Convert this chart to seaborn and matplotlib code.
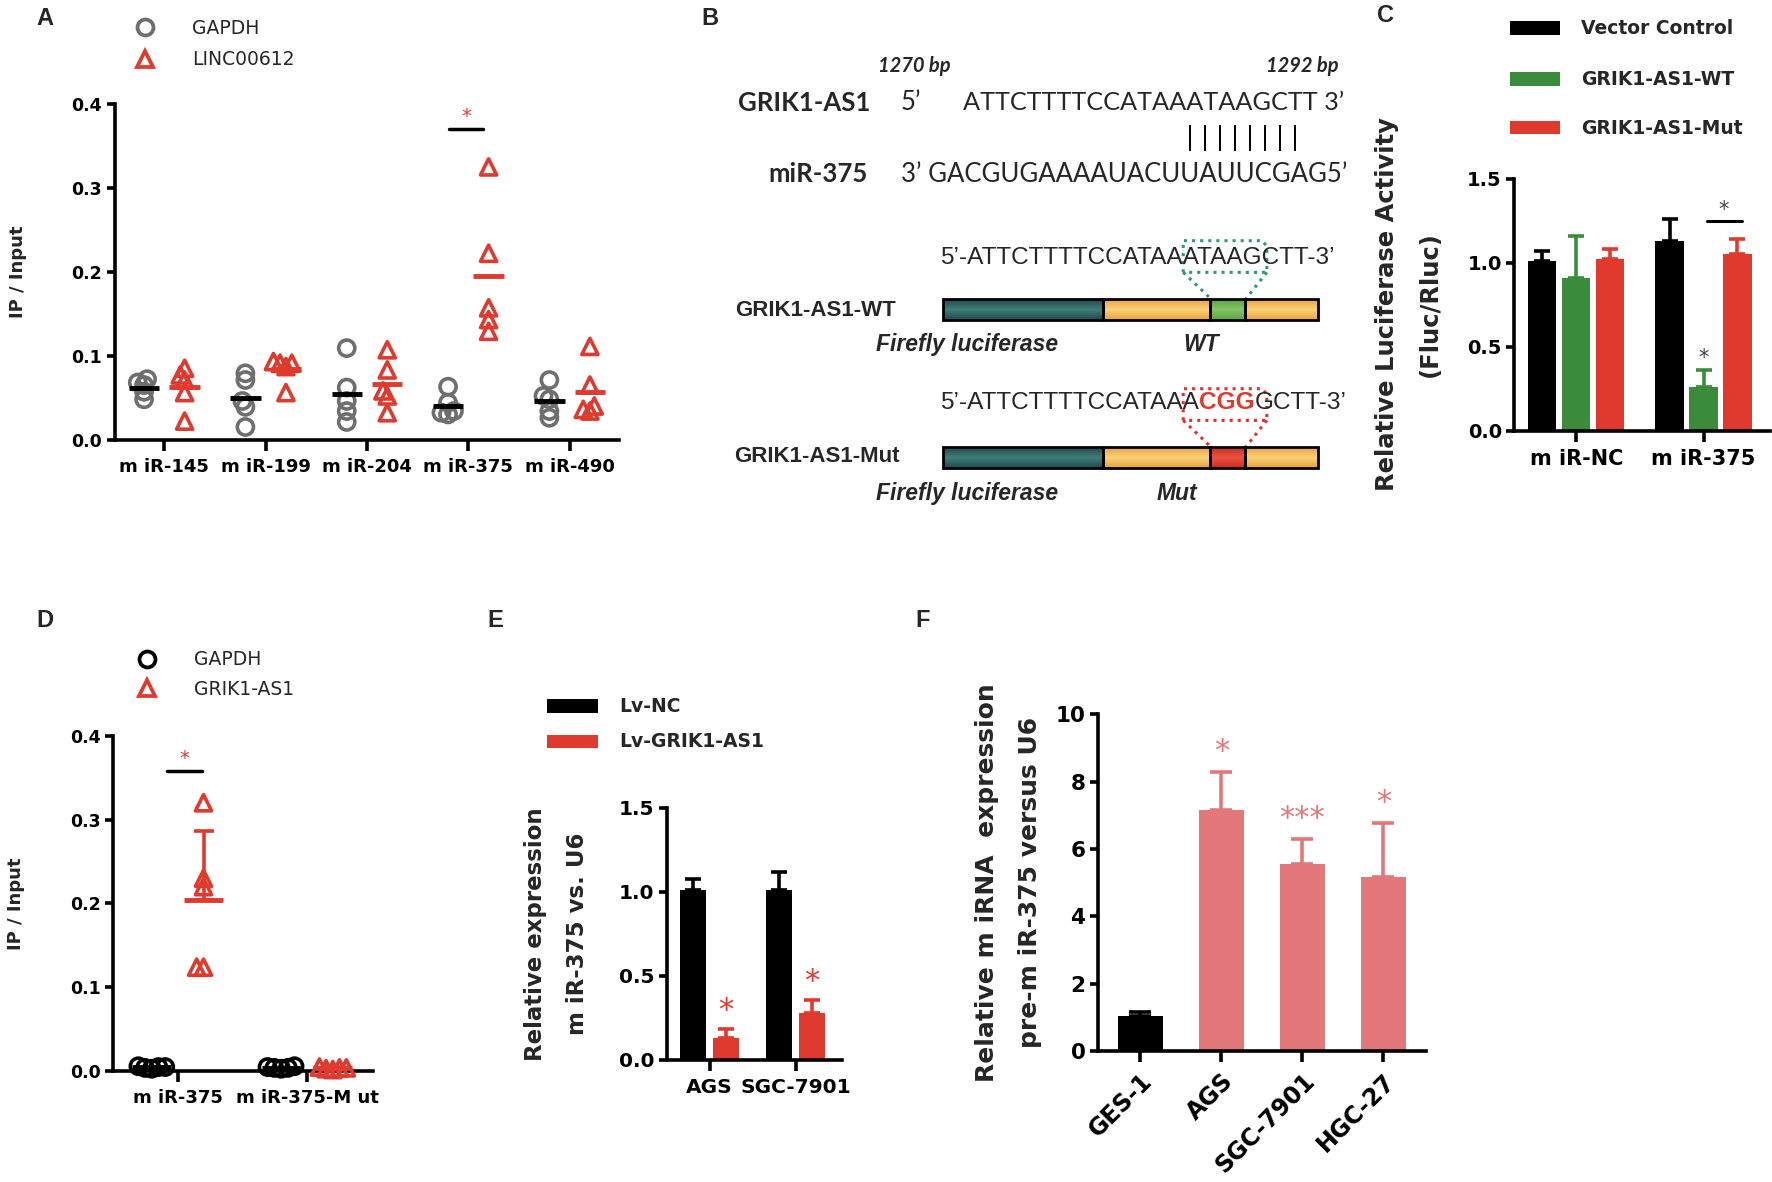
import numpy as np
import pandas as pd
import seaborn as sns
import matplotlib.pyplot as plt
from matplotlib.colors import LinearSegmentedColormap
from matplotlib.patches import Rectangle
from matplotlib.ticker import FormatStrFormatter

# ---------------- data ----------------
# A: RIP, IP / Input, 5 replicates per miRNA
a_mirs = ["m iR-145", "m iR-199", "m iR-204", "m iR-375", "m iR-490"]
a_genes = ["GAPDH", "LINC00612"]
a_gapdh = [[0.068, 0.072, 0.065, 0.057, 0.048],
           [0.079, 0.071, 0.046, 0.039, 0.015],
           [0.109, 0.062, 0.046, 0.034, 0.021],
           [0.063, 0.044, 0.034, 0.032, 0.030],
           [0.071, 0.052, 0.048, 0.034, 0.026]]
a_linc = [[0.085, 0.077, 0.071, 0.056, 0.022],
          [0.093, 0.091, 0.091, 0.087, 0.056],
          [0.107, 0.083, 0.058, 0.052, 0.032],
          [0.325, 0.222, 0.157, 0.143, 0.129],
          [0.111, 0.065, 0.040, 0.036, 0.034]]

# C: luciferase reporter
c_groups = ["m iR-NC", "m iR-375"]
c_series = ["Vector Control", "GRIK1-AS1-WT", "GRIK1-AS1-Mut"]
c_vector = [1.01, 1.13]
c_vector_err = [0.06, 0.13]
c_wt = [0.91, 0.26]
c_wt_err = [0.25, 0.10]
c_mut = [1.02, 1.05]
c_mut_err = [0.06, 0.09]

# D: RIP with miR-375 / miR-375-Mut
d_mirs = ["m iR-375", "m iR-375-M ut"]
d_genes = ["GAPDH", "GRIK1-AS1"]
d_gapdh = [[0.004, 0.006, 0.005, 0.003, 0.005],
           [0.005, 0.004, 0.006, 0.003, 0.004]]
d_grik = [[0.320, 0.230, 0.220, 0.124, 0.124],
          [0.003, 0.004, 0.005, 0.002, 0.004]]

# E: miR-375 after GRIK1-AS1 overexpression
e_cells = ["AGS", "SGC-7901"]
e_series = ["Lv-NC", "Lv-GRIK1-AS1"]
e_nc = [1.01, 1.01]
e_nc_err = [0.07, 0.11]
e_lv = [0.13, 0.28]
e_lv_err = [0.055, 0.077]

# F: pre-miR-375 in cell lines
f_cells = ["GES-1", "AGS", "SGC-7901", "HGC-27"]
f_vals = [1.04, 7.15, 5.55, 5.17]
f_err = [0.11, 1.13, 0.75, 1.60]
f_stars = ["", "*", "***", "*"]

RED = "#e0392e"
GREEN = "#3a8c3c"
SALMON = "#e2787a"
GREY = "#6e6e6e"

sns.set_style("ticks")
plt.rcParams["font.family"] = ["DejaVu Sans"]
plt.rcParams["font.weight"] = "bold"
plt.rcParams["axes.labelweight"] = "bold"
plt.rcParams["axes.edgecolor"] = "black"
plt.rcParams["axes.linewidth"] = 2.6
for k in ("xtick", "ytick"):
    plt.rcParams[k + ".color"] = "black"
    plt.rcParams[k + ".major.width"] = 2.6
    plt.rcParams[k + ".direction"] = "out"
plt.rcParams["xtick.major.size"] = 8
plt.rcParams["ytick.major.size"] = 6

# layout frame (pixel grid of the reference, y downwards)
W, H = 1568.0, 1046.0


def frame(x0, x1, ytop, ybot):
    return [x0 / W, 1 - ybot / H, (x1 - x0) / W, (ybot - ytop) / H]


def long_table(cats, gene, rows):
    return pd.DataFrame({"cat": np.repeat(cats, [len(r) for r in rows]),
                         "gene": gene, "val": np.concatenate(rows)})


def finish(ax, ysize, xsize):
    sns.despine(ax=ax)
    ax.set_facecolor("none")
    ax.set_xlabel("")
    ax.tick_params(axis="y", labelsize=ysize, pad=3)
    ax.tick_params(axis="x", labelsize=xsize, pad=5)


swarms = []


def swarm_panel(ax, cats, genes, groups, colors, markers, mean_colors):
    # swarm is laid out with a small footprint so points may overlap a bit,
    # the markers are enlarged once the layout is fixed (see end of file)
    for k, (gene, rows, marker) in enumerate(zip(genes, groups, markers)):
        d = long_table(cats, gene, rows)
        n0 = len(ax.collections)
        sns.swarmplot(data=d, x="cat", y="val", hue="gene", order=cats,
                      hue_order=genes, palette=colors, dodge=True, marker=marker,
                      size=4.2, linewidth=0.5, legend=False, ax=ax)
        for coll in list(ax.collections[n0:]):
            if len(coll.get_offsets()) == 0:
                coll.remove()   # empty hue slot, would draw a stray marker
                continue
            coll.set_edgecolor(colors[gene])
            coll.set_facecolor("none")
            coll.set_clip_on(False)
            swarms.append(coll)
        means = d.groupby("cat")["val"].mean().reindex(cats)
        xs = np.arange(len(cats)) + (k - 0.5) * 0.4
        ax.hlines(means.values, xs - 0.15, xs + 0.15, colors=mean_colors[k],
                  lw=3.5, zorder=4)


def bar_panel(ax, df, cats, series, colors, errs, width, gap, capsize):
    sns.barplot(data=df, x="cat", y="val", hue="series", order=cats,
                hue_order=series, palette=colors, width=width, gap=gap,
                errorbar=None, saturation=1, linewidth=0, legend=False, ax=ax)
    for cont, s in zip(ax.containers, series):
        for bar in cont:
            xc = bar.get_x() + bar.get_width() / 2
            i = int(round(xc))
            ax.errorbar(xc, bar.get_height(), yerr=[[0], [errs[s][i]]], fmt="none",
                        ecolor=colors[s], elinewidth=2.6, capsize=capsize,
                        capthick=2.6)


fig = plt.figure(figsize=(17.72, 11.82), dpi=100)

# ---------------- A ----------------
axA = fig.add_axes(frame(101.5, 548, 92, 389))
swarm_panel(axA, a_mirs, a_genes, [a_gapdh, a_linc],
            {"GAPDH": GREY, "LINC00612": RED}, ["o", "^"], ["black", RED])
axA.set_xlim(-0.49, 4.49)
axA.set_ylim(0, 0.4)
axA.set_yticks(np.arange(0, 0.41, 0.1))
axA.yaxis.set_major_formatter(FormatStrFormatter("%.1f"))
finish(axA, 12.5, 13)
axA.set_ylabel("IP / Input", fontsize=13, va="center")
axA.yaxis.set_label_coords(-0.192, 0.5)
axA.plot([2.805, 3.145], [0.37, 0.37], color="black", lw=2.5, clip_on=False)
axA.text(2.98, 0.385, "*", color=RED, ha="center", va="center", fontsize=14,
         fontweight="normal")

# ---------------- D ----------------
axD = fig.add_axes(frame(100, 330, 651, 948))
swarm_panel(axD, d_mirs, d_genes, [d_gapdh, d_grik],
            {"GAPDH": "black", "GRIK1-AS1": RED}, ["o", "^"], ["black", RED])
dg = long_table(d_mirs, "GRIK1-AS1", d_grik)
d_stats = dg.groupby("cat")["val"].agg(["mean", "std"]).reindex(d_mirs)
axD.errorbar(np.arange(len(d_mirs)) + 0.2, d_stats["mean"],
             yerr=[np.zeros(len(d_mirs)), d_stats["std"]], fmt="none", ecolor=RED,
             elinewidth=2.6, capsize=7, capthick=2.6)
axD.set_xlim(-0.5, 1.51)
axD.set_ylim(0, 0.4)
axD.set_yticks(np.arange(0, 0.41, 0.1))
axD.yaxis.set_major_formatter(FormatStrFormatter("%.1f"))
finish(axD, 12.5, 13)
axD.set_ylabel("IP / Input", fontsize=13, va="center")
axD.yaxis.set_label_coords(-0.374, 0.5)
axD.plot([-0.08, 0.19], [0.358, 0.358], color="black", lw=2.5)
axD.text(0.05, 0.373, "*", color=RED, ha="center", va="center", fontsize=14,
         fontweight="normal")

# ---------------- C ----------------
c_colors = dict(zip(c_series, ["black", GREEN, RED]))
dfc = pd.DataFrame({"cat": c_groups * 3, "series": np.repeat(c_series, 2),
                    "val": c_vector + c_wt + c_mut})
axC = fig.add_axes(frame(1340, 1566, 158, 381))
bar_panel(axC, dfc, c_groups, c_series, c_colors,
          dict(zip(c_series, [c_vector_err, c_wt_err, c_mut_err])), 0.8, 0.17, 6)
axC.set_xlim(-0.486, 1.52)
axC.set_ylim(0, 1.5)
axC.set_yticks([0, 0.5, 1.0, 1.5])
axC.yaxis.set_major_formatter(FormatStrFormatter("%.1f"))
finish(axC, 14, 15)
axC.set_ylabel("Relative Luciferase Activity\n(Fluc/Rluc)", fontsize=17.5,
               va="center", linespacing=2.0)
axC.yaxis.set_label_coords(-0.416, 0.5)
axC.text(1.0, c_wt[1] + c_wt_err[1] + 0.07, "*", color="#444444", ha="center",
         va="center", fontsize=15, fontweight="normal")
axC.plot([1.03, 1.30], [1.25, 1.25], color="black", lw=2.2)
axC.text(1.157, 1.31, "*", color="#444444", ha="center", va="center", fontsize=15,
         fontweight="normal")

# ---------------- E ----------------
e_colors = dict(zip(e_series, ["black", RED]))
dfe = pd.DataFrame({"cat": e_cells * 2, "series": np.repeat(e_series, 2),
                    "val": e_nc + e_lv})
axE = fig.add_axes(frame(590, 745, 715, 938))
bar_panel(axE, dfe, e_cells, e_series, e_colors,
          dict(zip(e_series, [e_nc_err, e_lv_err])), 0.76, 0.21, 6)
axE.set_xlim(-0.5, 1.54)
axE.set_ylim(0, 1.5)
axE.set_yticks([0, 0.5, 1.0, 1.5])
axE.yaxis.set_major_formatter(FormatStrFormatter("%.1f"))
finish(axE, 14.5, 14.5)
axE.set_ylabel("Relative expression\nm iR-375 vs. U6", fontsize=16.5, va="center",
               linespacing=2.05)
axE.yaxis.set_label_coords(-0.63, 0.5)
for i, (v, e) in enumerate(zip(e_lv, e_lv_err)):
    axE.text(i + 0.19, v + e + 0.11, "*", color=RED, ha="center", va="center",
             fontsize=22, fontweight="normal")

# ---------------- F ----------------
f_colors = dict(zip(f_cells, ["black", SALMON, SALMON, SALMON]))
dff = pd.DataFrame({"cat": f_cells, "series": f_cells, "val": f_vals})
axF = fig.add_axes(frame(971.5, 1262, 632, 930))
bar_panel(axF, dff, f_cells, f_cells, f_colors,
          {c: f_err for c in f_cells}, 0.56, 0, 8)
axF.set_xlim(-0.523, 3.53)
axF.set_ylim(0, 10)
axF.set_yticks(range(0, 11, 2))
finish(axF, 15.5, 17)
plt.setp(axF.get_xticklabels(), rotation=45, ha="right", rotation_mode="anchor")
axF.set_ylabel("Relative m iRNA  expression\npre-m iR-375 versus U6", fontsize=18,
               va="center", linespacing=2.0)
axF.yaxis.set_label_coords(-0.272, 0.5)
for i, (v, e, s) in enumerate(zip(f_vals, f_err, f_stars)):
    if s:
        axF.text(i, v + e + 0.6, s, color=SALMON, ha="center", va="center",
                 fontsize=22, fontweight="normal")

# ---------------- overlay: panel letters, legends, diagram B ----------------
ov = fig.add_axes([0, 0, 1, 1])
ov.set_axis_off()

for lab, x, y in [("A", 40, 16), ("B", 628, 16), ("C", 1226, 14),
                  ("D", 40, 549), ("E", 438, 549), ("F", 816, 549)]:
    ov.text(x, y, lab, family="Liberation Sans", fontsize=17, fontweight="bold",
            ha="center", va="center")

# legends A and D
for (x, y, m, c, lab) in [(128, 24, "o", GREY, "GAPDH"), (128, 52, "^", RED, "LINC00612"),
                          (130, 583, "o", "black", "GAPDH"), (130, 609, "^", RED, "GRIK1-AS1")]:
    ov.plot(x, y, marker=m, ms=11.5, mfc="none", mec=c, mew=2.7, ls="none")
    ov.text(x + 42, y + 1, lab, fontsize=13.5, fontweight="normal", va="center")

# legends C and E
for (x, y, w, c, lab) in [(1336, 19, 44, "black", "Vector Control"),
                          (1336, 64, 44, GREEN, "GRIK1-AS1-WT"),
                          (1336, 107, 44, RED, "GRIK1-AS1-Mut"),
                          (484, 619, 45, "black", "Lv-NC"),
                          (484, 650, 45, RED, "Lv-GRIK1-AS1")]:
    ov.add_patch(Rectangle((x, y), w, 12, color=c, lw=0))
    ov.text(x + w + 19, y + 6.5, lab, fontsize=13.5, va="center")

# diagram B
CAL = "Lato"
ARI = "Liberation Sans"
ov.text(809, 58, "1270 bp", family=CAL, style="italic", fontsize=14.5, ha="center", va="center")
ov.text(1152, 58, "1292 bp", family=CAL, style="italic", fontsize=14.5, ha="center", va="center")
ov.text(770, 91, "GRIK1-AS1", family=CAL, fontsize=18.5, ha="right", va="center")
ov.text(797, 91, "5’", family=CAL, fontsize=18.5, fontweight="normal", va="center")
ov.text(852, 91, "ATTCTTTTCCATAAATAAGCTT 3’", family=CAL, fontsize=18.2,
        fontweight="normal", va="center")
ov.vlines(np.linspace(1053, 1146, 8), 111, 134, color="black", lw=1.4)
ov.text(768, 154, "miR-375", family=CAL, fontsize=18.5, ha="right", va="center")
ov.text(797, 154, "3’ GACGUGAAAAUACUUAUUCGAG5’", family=CAL, fontsize=18.5,
        fontweight="normal", va="center")

ov.text(832, 228, "5’-ATTCTTTTCCATAAATAAGCTT-3’", family=ARI, fontsize=17.6,
        fontweight="normal", va="center")
t1 = ov.text(832, 357, "5’-ATTCTTTTCCATAAA", family=ARI, fontsize=17.6,
             fontweight="normal", va="center")
t2 = ov.annotate("CGG", xy=(1, 0), xycoords=t1, family=ARI, fontsize=17.6,
                 color=RED, ha="left", va="bottom")
ov.annotate("GCTT-3’", xy=(1, 0), xycoords=t2, family=ARI, fontsize=17.6,
            fontweight="normal", ha="left", va="bottom")

ov.text(793, 275, "GRIK1-AS1-WT", family=ARI, fontsize=16, ha="right", va="center")
ov.text(796, 404, "GRIK1-AS1-Mut", family=ARI, fontsize=16, ha="right", va="center")
for y in (305, 437):
    ov.text(856, y, "Firefly luciferase", family=ARI, style="italic", fontsize=16.5,
            ha="center", va="center")
ov.text(1063, 305, "WT", family=ARI, style="italic", fontsize=16.5, ha="center", va="center")
ov.text(1041, 437, "Mut", family=ARI, style="italic", fontsize=16.5, ha="center", va="center")


def seg(x0, x1, y0, y1, c_out, c_in):
    cmap = LinearSegmentedColormap.from_list("g", [c_out, c_in, c_out])
    ov.imshow(np.linspace(0, 1, 40).reshape(-1, 1), cmap=cmap, aspect="auto",
              extent=(x0, x1, y1, y0), zorder=2, interpolation="bilinear")
    ov.add_patch(Rectangle((x0, y0), x1 - x0, y1 - y0, fill=False, ec="black",
                           lw=2, zorder=3))


for y0, c_out, c_in, box_c in [(265, "#5aa548", "#86c464", "#2e9a6e"),
                               (396, "#cf2a22", "#e9553f", "#e03030")]:
    seg(834, 976, y0, y0 + 18, "#1e4a55", "#417f73")
    seg(976, 1071, y0, y0 + 18, "#eda236", "#f8d27c")
    seg(1071, 1102, y0, y0 + 18, c_out, c_in)
    seg(1102, 1166, y0, y0 + 18, "#eda236", "#f8d27c")
    top = y0 - 52
    ov.plot([1047, 1047, 1117, 1121, 1121, 1047],
            [top + 28, top, top, top + 5, top + 28, top + 28],
            ls=":", lw=2.2, color=box_c)
    ov.plot([1047, 1072], [top + 28, y0], ls=":", lw=2.2, color=box_c)
    ov.plot([1121, 1102], [top + 28, y0], ls=":", lw=2.2, color=box_c)

ov.set_xlim(0, W)
ov.set_ylim(H, 0)

# fix the swarm layout, then draw the markers at full size
fig.canvas.draw()
for coll in swarms:
    coll.__dict__.pop("draw", None)
    coll.set_sizes([135])
    coll.set_linewidth(2.6)

fig.savefig("out.png", dpi=100)
